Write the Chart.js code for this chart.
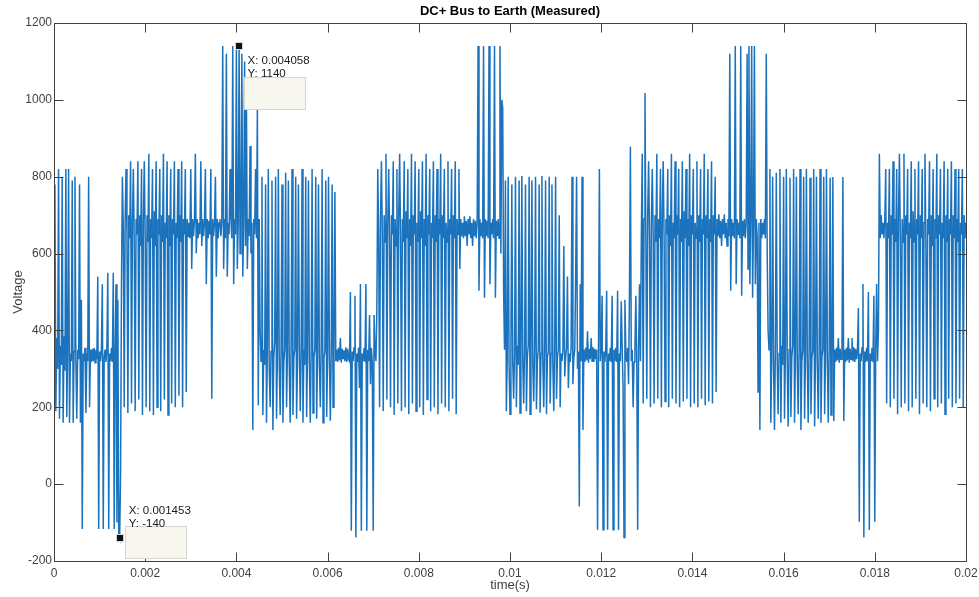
<!DOCTYPE html>
<html>
<head>
<meta charset="utf-8">
<script src="https://cdn.jsdelivr.net/npm/chart.js@4.4.1/dist/chart.umd.min.js"></script>
<style>
  html, body { margin: 0; padding: 0; background: #ffffff; }
  canvas { display: block; }
</style>
</head>
<body>
<canvas id="c" width="979" height="597"></canvas>
<script>
// ---------------- data ----------------
const TITLE = 'DC+ Bus to Earth (Measured)';
const X_TITLE = 'time(s)';
const Y_TITLE = 'Voltage';
const X_TICKS = [0, 0.002, 0.004, 0.006, 0.008, 0.01, 0.012, 0.014, 0.016, 0.018, 0.02];
const X_TICK_LABELS = ['0', '0.002', '0.004', '0.006', '0.008', '0.01', '0.012', '0.014', '0.016', '0.018', '0.02'];
const Y_TICKS = [-200, 0, 200, 400, 600, 800, 1000, 1200];
const SAMPLE_STEP = 0.00002; // seconds between samples
const SEGMENT_STARTS = [0, 0.0015, 0.00454, 0.0071, 0.00988, 0.01288, 0.01568, 0.0181];

const segA = [300,780,190,380,300,820,170,360,310,800,160,385,295,820,175,350,820,160,
  340,320,790,160,345,800,320,170,350,325,780,160,480,-117,340,320,355,185,340,320,800,200,350,
  318,352,320,355,316,350,325,540,-117,345,320,355,520,-117,330,350,318,355,550,-117,340,320,355,318,550,-117,350,520,-100,480,-130,-140,30,520];

const segB = [800,660,200,690,820,645,185,700,640,840,
  210,680,820,630,190,690,650,840,220,700,
  620,820,180,680,840,640,200,700,630,860,
  190,690,640,820,180,710,620,840,200,690,
  650,820,190,700,630,860,220,680,640,840,
  180,700,620,820,210,690,650,840,200,680,
  640,820,230,700,630,840,200,690,650,820,
  240,690,645,680,640,820,560,690,645,685,
  860,600,690,640,680,650,840,620,690,645,
  680,820,520,690,640,685,650,820,222,690,
  645,680,800,540,690,640,680,
  690,645,680,1140,560,690,640,1120,540,680,
  650,820,690,640,1140,520,690,650,1140,560,
  680,1140,600,690,1120,540,680,1100,620,1000,
  560,690,645,880,600,680,141,690,650,820,
  640,980,205,690,400];

const segC = [320,800,180,350,310,780,160,360,820,300,
  200,345,790,141,330,370,800,170,340,820,
  310,180,355,780,160,320,350,810,200,340,
  790,300,160,365,820,180,330,350,800,170,
  320,780,360,190,340,820,160,350,310,800,
  175,345,790,320,160,355,820,185,330,350,
  800,170,340,780,310,200,360,820,160,330,
  345,790,175,340,800,320,165,350,780,200,
  340,760,320,
  350,318,355,322,380,316,352,325,348,320,356,318,352,325,
  320,500,-121,345,320,355,490,-139,340,318,
  355,250,521,-121,340,320,355,318,521,-121,
  350,320,440,260,355,318,-121,440,340,320,
  450];

const segD = [820,640,200,690,840,650,190,700,630,860,
  220,680,820,640,200,700,650,840,180,690,
  620,820,210,700,860,640,190,690,630,840,
  200,710,640,820,182,690,620,860,210,700,
  650,840,190,680,630,820,200,710,640,840,
  180,690,620,860,220,700,650,820,190,680,
  640,840,200,700,630,820,182,690,650,860,
  210,700,640,820,200,680,630,840,190,690,
  650,820,222,700,640,840,182,690,650,820,
  560,690,645,680,640,697,645,685,620,690,
  650,697,640,680,620,690,645,685,640,680,
  1140,503,690,645,680,640,1140,485,690,645,
  685,640,1140,520,680,650,690,640,1140,485,
  685,645,690,640,1140,600,1000,980,500];

const segE = [350,790,190,330,800,310,182,355,780,320,
  222,340,800,200,360,310,790,185,345,802,
  320,210,350,780,190,330,360,800,182,340,
  790,310,215,355,800,195,320,350,780,186,
  340,802,320,200,360,790,182,330,345,800,
  210,340,780,310,190,355,800,222,330,350,
  700,200,340,320,
  350,620,280,330,355,540,250,340,318,355,
  800,260,330,350,540,800,300,345,-58,520,
  320,800,141,
  350,318,355,322,398,316,352,325,380,320,356,318,352,325,350,
  -119,340,820,320,355,490,-119,345,318,355,
  503,-119,340,320,355,318,490,-119,350,320,
  355,318,503,-119,340,320,476,355,250,-139,
  480,340,318,355,260,500,878,320,350,200,
  318,355,490,320,-119,350,520,320];

const segF = [640,860,210,690,1018,630,222,700,840,640,
  200,680,820,650,210,700,630,860,222,690,
  640,820,200,710,840,630,215,690,650,820,
  200,700,620,860,222,680,640,840,210,700,
  650,820,200,690,630,840,215,710,640,820,
  222,690,620,860,200,700,650,820,210,680,
  640,840,200,700,630,820,222,690,650,860,
  205,700,640,820,215,690,630,840,210,700,
  650,800,240,
  690,645,702,640,685,620,690,650,702,640,680,620,690,645,
  1120,503,690,645,680,640,1140,520,690,650,
  680,640,1140,490,685,645,690,640,680,1120,
  560,1140,520,690,1140,485,680,1140,520,690,
  645,240,680,141,690,640,680,650,690,640,
  1120,600,400];

const segG = [350,820,160,330,800,310,141,355,810,320,
  182,340,820,160,360,310,800,170,345,820,
  320,150,350,797,175,330,360,820,160,340,
  800,310,182,355,820,141,320,350,800,170,
  340,820,320,160,360,797,182,330,345,820,
  150,340,800,310,170,355,820,160,330,350,
  800,182,340,820,320,160,355,797,180,
  330,799,164,350,318,355,322,380,316,352,
  325,348,799,164,350,318,355,322,380,316,
  352,325,380,320,356,318,352,325,350,
  458,-98,340,320,355,521,-139,345,318,355,
  320,500,-119,340,320,355,318,490,-98,350,
  521,320,400];

const segH = [860,640,700,650,680,640,690,820,210,680,
  640,820,200,700,650,840,222,690,630,820,
  182,700,860,640,200,690,630,860,210,700,
  650,820,190,680,640,840,200,710,630,820,
  222,690,650,840,182,700,640,820,210,680,
  860,630,200,690,650,840,190,700,620,820,
  222,690,640,860,200,700,650,820,210,680,
  640,840,182,700,630,820,222,690,650,840,
  200,700,640,820,210,690,630,820,222,680,
  650,820,200,700,640,680];

const SEGMENTS = [segA, segB, segC, segD, segE, segF, segG, segH];

const DATA_TIPS = [
  { x: 0.004058, y: 1140, lines: ['X: 0.004058', 'Y: 1140'], place: 'below' },
  { x: 0.001453, y: -140, lines: ['X: 0.001453', 'Y: -140'], place: 'above' }
];

// ---------------- build points ----------------
const points = [];
SEGMENTS.forEach((seg, s) => {
  seg.forEach((v, i) => points.push({ x: SEGMENT_STARTS[s] + i * SAMPLE_STEP, y: v }));
});

const FONT = '"Liberation Sans", Arial, Helvetica, sans-serif';
const AXIS_COLOR = '#404040';
const LINE_COLOR = '#1b72bd';

const framePlugin = {
  id: 'frame',
  afterDatasetsDraw(chart) {
    const { ctx, chartArea: a, scales: { x, y } } = chart;
    const L = Math.round(a.left) + 0.5, R = Math.round(a.right) + 0.5;
    const T = Math.round(a.top) + 0.5, B = Math.round(a.bottom) + 0.5;
    ctx.save();
    ctx.strokeStyle = AXIS_COLOR;
    ctx.lineWidth = 1;
    ctx.strokeRect(L, T, R - L, B - T);
    const TL = 9;
    ctx.beginPath();
    X_TICKS.forEach(v => {
      const px = Math.round(x.getPixelForValue(v)) + 0.5;
      ctx.moveTo(px, B); ctx.lineTo(px, B - TL);
      ctx.moveTo(px, T); ctx.lineTo(px, T + TL);
    });
    Y_TICKS.forEach(v => {
      const py = Math.round(y.getPixelForValue(v)) + 0.5;
      ctx.moveTo(L, py); ctx.lineTo(L + TL, py);
      ctx.moveTo(R, py); ctx.lineTo(R - TL, py);
    });
    ctx.stroke();
    ctx.restore();
  }
};

const dataTipPlugin = {
  id: 'datatips',
  afterDraw(chart) {
    const { ctx, scales: { x, y } } = chart;
    ctx.save();
    DATA_TIPS.forEach(tip => {
      const px = x.getPixelForValue(tip.x);
      const py = y.getPixelForValue(tip.y);
      let bx, by, tx, ty1, ty2;
      if (tip.place === 'below') {
        bx = px + 5; by = py + 31; tx = px + 8.5; ty1 = py + 15; ty2 = py + 28;
      } else {
        bx = px + 4.5; by = py - 11.5; tx = px + 8.5; ty1 = py - 27; ty2 = py - 14;
      }
      ctx.fillStyle = '#f7f7ef';
      ctx.fillRect(Math.round(bx), Math.round(by), 61, 32);
      ctx.strokeStyle = '#d6d6ce';
      ctx.lineWidth = 1;
      ctx.strokeRect(Math.round(bx) + 0.5, Math.round(by) + 0.5, 61, 32);
      ctx.fillStyle = '#d9d9c4';
      ctx.fillRect(Math.round(px) - 4, Math.round(py) - 4, 8, 8);
      ctx.fillStyle = '#111111';
      ctx.fillRect(Math.round(px) - 3, Math.round(py) - 3, 6, 6);
      ctx.fillStyle = '#1a1a1a';
      ctx.font = '11.5px ' + FONT;
      ctx.textAlign = 'left';
      ctx.textBaseline = 'middle';
      ctx.fillText(tip.lines[0], tx, ty1);
      ctx.fillText(tip.lines[1], tx, ty2);
    });
    ctx.restore();
  }
};

new Chart(document.getElementById('c'), {
  type: 'line',
  data: {
    datasets: [{
      data: points,
      borderColor: LINE_COLOR,
      borderWidth: 1.5,
      pointRadius: 0,
      tension: 0,
      fill: false
    }]
  },
  options: {
    responsive: false,
    animation: false,
    devicePixelRatio: 1,
    layout: { padding: { left: 0, right: 13, top: 0, bottom: 0 } },
    plugins: {
      legend: { display: false },
      tooltip: { enabled: false },
      title: {
        display: true,
        text: TITLE,
        fullSize: false,
        color: '#000000',
        font: { family: FONT, size: 13, weight: 'bold' },
        padding: { top: 4, bottom: 3.4 }
      }
    },
    scales: {
      x: {
        type: 'linear',
        min: 0,
        max: 0.02,
        grid: { display: false, drawTicks: false },
        border: { display: false },
        afterBuildTicks(s) { s.ticks = X_TICKS.map(v => ({ value: v })); },
        ticks: {
          color: AXIS_COLOR,
          font: { family: FONT, size: 12 },
          padding: 5,
          maxRotation: 0,
          autoSkip: false,
          callback: (v, i) => X_TICK_LABELS[i]
        },
        title: {
          display: true,
          text: X_TITLE,
          color: AXIS_COLOR,
          font: { family: FONT, size: 13 },
          padding: { top: 0, bottom: 4 }
        },
        afterFit(s) { s.height = 36; s.paddingLeft = 0; s.paddingRight = 0; }
      },
      y: {
        type: 'linear',
        min: -200,
        max: 1200,
        grid: { display: false, drawTicks: false },
        border: { display: false },
        afterBuildTicks(s) { s.ticks = Y_TICKS.map(v => ({ value: v })); },
        ticks: {
          color: AXIS_COLOR,
          font: { family: FONT, size: 12 },
          padding: 2,
          autoSkip: false,
          callback: (v) => String(v)
        },
        title: {
          display: true,
          text: Y_TITLE,
          color: AXIS_COLOR,
          font: { family: FONT, size: 13 },
          padding: { top: 10.5, bottom: 0 }
        },
        afterFit(s) { s.width = 54; s.paddingTop = 0; s.paddingBottom = 0; }
      }
    }
  },
  plugins: [framePlugin, dataTipPlugin]
});
</script>
</body>
</html>
